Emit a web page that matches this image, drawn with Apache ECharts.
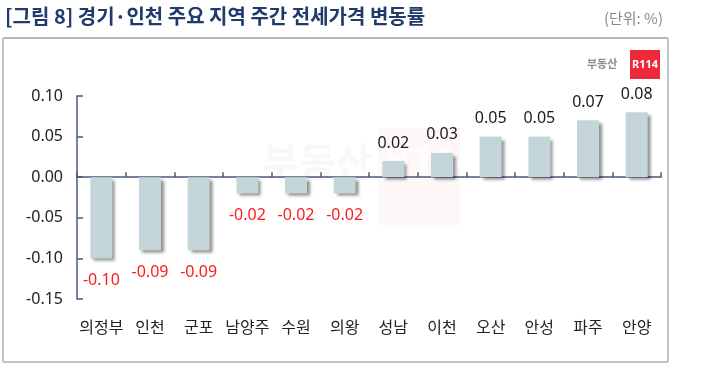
<!DOCTYPE html>
<html><head><meta charset="utf-8">
<script src="https://cdn.jsdelivr.net/npm/echarts@6/dist/echarts.min.js"></script>
<style>html,body{margin:0;padding:0;background:#fff}#c{width:710px;height:384px}</style>
</head><body><div id="c"></div>
<script>
const categories = ['의정부','인천','군포','남양주','수원','의왕','성남','이천','오산','안성','파주','안양'];
const values = [-0.10,-0.09,-0.09,-0.02,-0.02,-0.02,0.02,0.03,0.05,0.05,0.07,0.08];
const yTicks = {min:-0.15, max:0.10, interval:0.05};
const titleText = '[그림 8] 경기·인천 주요 지역 주간 전세가격 변동률';
const unitText = '(단위: %)';

const chart = echarts.init(document.getElementById('c'), null, {renderer:'canvas'});
const FONT = '"Noto Sans", "Noto Sans CJK KR", sans-serif';
const axisColor = '#4a5a7e';
chart.setOption({
  animation:false,
  textStyle:{fontFamily:FONT},
  grid:{left:77, right:49, top:96, bottom:85},
  xAxis:[{
    type:'category', data:categories, position:'bottom',
    axisLine:{onZero:true, lineStyle:{color:axisColor, width:1.5}},
    axisTick:{show:true, inside:true, length:5, lineStyle:{color:axisColor, width:1.5}},
    axisLabel:{show:false}
  },{
    type:'category', data:categories, position:'bottom',
    axisLine:{show:false}, axisTick:{show:false},
    axisLabel:{show:true, interval:0, margin:20, color:'#222', fontSize:16, fontFamily:'"Noto Sans CJK KR", sans-serif'}
  }],
  yAxis:{
    type:'value', min:yTicks.min, max:yTicks.max, interval:yTicks.interval,
    axisLine:{show:true, lineStyle:{color:axisColor, width:1.5}},
    axisTick:{show:true, inside:true, length:6, lineStyle:{color:axisColor, width:1.5}},
    splitLine:{show:false},
    axisLabel:{color:'#222', fontSize:16, margin:14, formatter:v=>v.toFixed(2)}
  },
  series:[{
    type:'bar', xAxisIndex:0, barWidth:22,
    data: values.map(v=>({
      value:v,
      label:{position: v<0 ? 'bottom':'top', color: v<0 ? '#ff1a1a' : '#1a1a1a', distance: v<0?14:10}
    })),
    itemStyle:{color:'#c4d5da', shadowColor:'rgba(0,0,0,0.45)', shadowOffsetX:3, shadowOffsetY:3, shadowBlur:3},
    label:{show:true, fontSize:16, formatter:p=>p.value.toFixed(2)}
  }],
  graphic:[
    {type:'text', left:5, top:6, style:{text:titleText, fill:'#1f3a6b', font:'bold 20px "Noto Sans CJK KR", sans-serif'}},
    {type:'text', x:663, y:11, style:{text:unitText, align:'right', fill:'#8a8a8a', font:'15px "Noto Sans CJK KR", sans-serif'}},
    {type:'line', shape:{x1:3, y1:38, x2:668, y2:38}, style:{stroke:'#a0a0a0', lineWidth:1.5}},
    {type:'line', shape:{x1:3, y1:38, x2:3, y2:362}, style:{stroke:'#b0b0b0', lineWidth:1.5}},
    {type:'line', shape:{x1:668, y1:38, x2:668, y2:362}, style:{stroke:'#b0b0b0', lineWidth:1.5}},
    {type:'line', shape:{x1:3, y1:362, x2:668, y2:362}, style:{stroke:'#b0b0b0', lineWidth:1.5}},
    {type:'text', left:587, top:58, style:{text:'부동산', fill:'#8c8c8c', font:'bold 11px "Noto Sans CJK KR", sans-serif'}},
    {type:'rect', shape:{x:630, y:50, width:30, height:29}, style:{fill:'#ee2a3a'}},
    {type:'text', x:645, y:64.5, style:{text:'R114', align:'center', verticalAlign:'middle', fill:'#fff', font:'bold 11px "Noto Sans", sans-serif'}},
    {type:'rect', z:-1, shape:{x:378, y:128, width:82, height:97}, style:{fill:'rgba(240,120,130,0.06)'}},
    {type:'text', z:-1, left:262, top:142, style:{text:'부동산', fill:'rgba(150,150,150,0.07)', font:'bold 40px "Noto Sans CJK KR", sans-serif'}},
    {type:'text', z:-1, left:384, top:142, style:{text:'R114', fill:'rgba(255,255,255,0.8)', font:'bold 40px "Noto Sans", sans-serif'}}
  ]
});
</script></body></html>
